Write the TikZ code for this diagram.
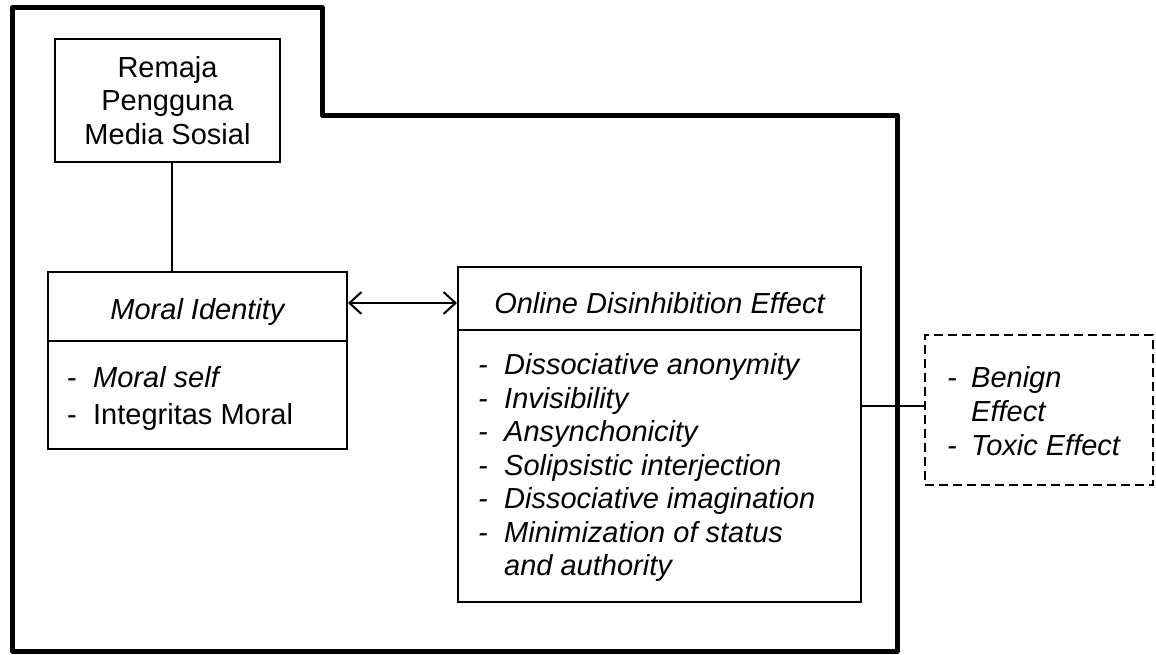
\documentclass[tikz,border=0pt]{standalone}
\usepackage{fontspec}
\setmainfont{Liberation Sans}
\usetikzlibrary{arrows.meta}
\tikzset{
  txt/.style={font=\fontsize{29pt}{33.5pt}\selectfont},
  box/.style={draw, line width=2pt, rectangle, inner sep=0pt, txt},
  listtxt/.style={inner sep=0pt, align=left, anchor=west, txt},
  conn/.style={line width=2pt},
  mybarb/.tip={Straight Barb[length=12pt,width=22pt,line width=2pt]},
}
\newcommand{\itm}[1]{\makebox[26pt][l]{-}#1}
\begin{document}
\begin{tikzpicture}[x=1pt,y=-1pt]
\useasboundingbox (0,0) rectangle (1156,654);
% outer frame
\draw[line width=5pt, line join=round] (12.5,7.5) -- (322,7.5) -- (322,115) -- (897,115) -- (897,651) -- (12.5,651) -- cycle;
% Remaja
\node[box, minimum width=225pt, minimum height=123pt, align=center] (remaja) at (167.5,100.5) {Remaja\\Pengguna\\Media Sosial};
% Moral Identity
\node[box, minimum width=299pt, minimum height=69pt, text height=25pt, text depth=0pt] (mihead) at (197.5,306.5) {\itshape Moral Identity};
\node[box, minimum width=299pt, minimum height=108pt] (mibody) at (197.5,395) {};
\node[listtxt, font=\fontsize{29pt}{37pt}\selectfont] (milist) at (67,398.5) {\itm{\itshape Moral self}\\\itm{Integritas Moral}};
% ODE
\node[box, minimum width=403pt, minimum height=63pt, text height=29pt, text depth=0pt] (odehead) at (659.5,298.5) {\itshape Online Disinhibition Effect};
\node[box, minimum width=403pt, minimum height=272pt] (odebody) at (659.5,466) {};
\node[listtxt, font=\fontsize{29pt}{33.5pt}\selectfont\itshape] (odelist) at (478,467.5) {%
\itm{Dissociative anonymity}\\
\itm{Invisibility}\\
\itm{Ansynchonicity}\\
\itm{Solipsistic interjection}\\
\itm{Dissociative imagination}\\
\itm{Minimization of status}\\
\hspace*{26pt}and authority};
% dashed box
\node[box, dash pattern=on 9pt off 5pt, minimum width=228pt, minimum height=150pt] (effbox) at (1039,410) {};
\node[listtxt, font=\fontsize{29pt}{34pt}\selectfont\itshape] (efflist) at (947,411.5) {%
\makebox[24pt][l]{-}Benign\\
\hspace*{24pt}Effect\\
\makebox[24pt][l]{-}Toxic Effect};
% connectors
\coordinate (vline) at (172,0);
\coordinate (arrowy) at (0,303);
\coordinate (effy) at (0,406);
\draw[conn] (remaja.south -| vline) -- (mihead.north -| vline);
\draw[conn, mybarb-mybarb] (mihead.east |- arrowy) -- (odehead.west |- arrowy);
\draw[conn] (odebody.east |- effy) -- (effbox.west |- effy);
\end{tikzpicture}
\end{document}
